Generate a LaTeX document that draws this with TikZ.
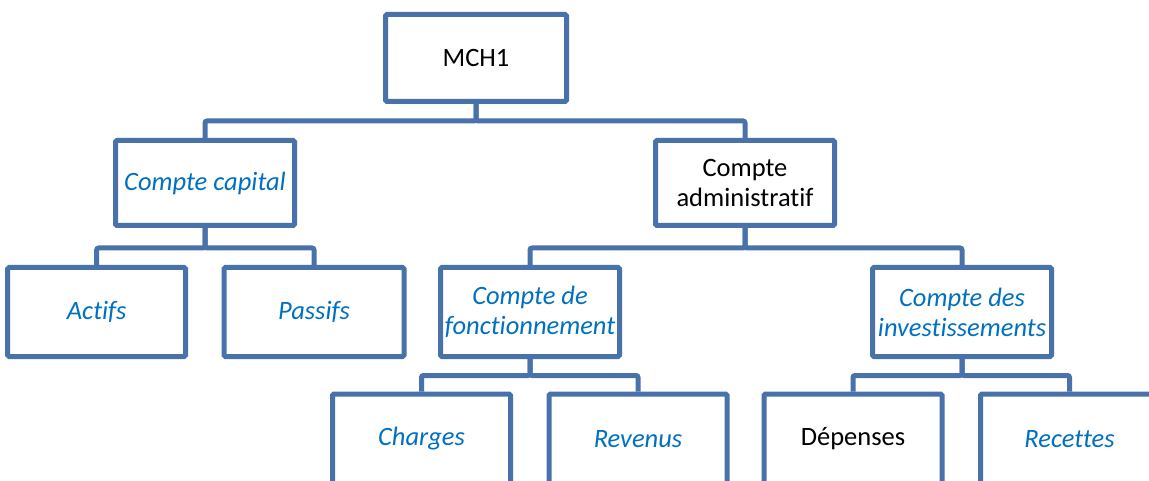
\documentclass[tikz,border=0pt]{standalone}
\usepackage{fontspec}
\setmainfont{Carlito}[Ligatures=NoCommon]
\usetikzlibrary{backgrounds}
\definecolor{boxc}{HTML}{4A72AA}
\definecolor{txtblue}{HTML}{0070C0}
\tikzset{
  orgbox/.style={draw=boxc, line width=5pt, fill=white, rounded corners=1.5pt,
    inner sep=0pt, align=center, minimum width=179pt, minimum height=87pt,
    font=\fontsize{26.5}{30}\selectfont},
  ital/.style={text=txtblue, font=\fontsize{26.5}{30}\selectfont\itshape},
  conn/.style={draw=boxc, line width=5pt, rounded corners=2pt}
}
\begin{document}
\begin{tikzpicture}[x=1pt,y=-1pt]
\useasboundingbox (0,0) rectangle (1149,481);
\clip (0,0) rectangle (1149,481);
% nodes
\node[orgbox, minimum width=181pt] (mch) at (476,58) {MCH1};
\node[orgbox, ital, minimum height=85pt] (cap) at (205,183) {Compte capital};
\node[orgbox, minimum height=85pt] (adm) at (745,183) {Compte\\administratif};
\node[orgbox, ital, minimum width=178pt, minimum height=89pt] (act) at (96.7,312) {Actifs};
\node[orgbox, ital, minimum width=180pt, minimum height=89pt] (pas) at (314,312) {Passifs};
\node[orgbox, ital, minimum height=89pt] (fon) at (530,312) {Compte de\\fonctionnement};
\node[orgbox, ital, minimum height=89pt] (inv) at (962,312) {Compte des\\investissements};
\node[orgbox, ital, minimum width=178pt, minimum height=90pt] (cha) at (421.5,439) {Charges};
\node[orgbox, ital, minimum width=178pt, minimum height=90pt] (rev) at (638,439) {Revenus};
\node[orgbox, minimum width=178pt, minimum height=90pt] (dep) at (853,439) {Dépenses};
\node[orgbox, ital, minimum width=178pt, minimum height=90pt] (rec) at (1069.5,439) {Recettes};
% bus junctions
\coordinate (b0) at (476,121);
\coordinate (b1) at (205,248);
\coordinate (b2) at (745,248);
\coordinate (b3) at (530,375.5);
\coordinate (b4) at (962,375.5);
% connectors
\begin{scope}[on background layer]
\draw[conn] (mch.south) -- (b0) -| (cap.north);
\draw[conn] (mch.south) -- (b0) -| (adm.north);
\draw[conn] (cap.south) -- (b1) -| (act.north);
\draw[conn] (cap.south) -- (b1) -| (pas.north);
\draw[conn] (adm.south) -- (b2) -| (fon.north);
\draw[conn] (adm.south) -- (b2) -| (inv.north);
\draw[conn] (fon.south) -- (b3) -| (cha.north);
\draw[conn] (fon.south) -- (b3) -| (rev.north);
\draw[conn] (inv.south) -- (b4) -| (dep.north);
\draw[conn] (inv.south) -- (b4) -| (rec.north);
\end{scope}
\end{tikzpicture}
\end{document}
